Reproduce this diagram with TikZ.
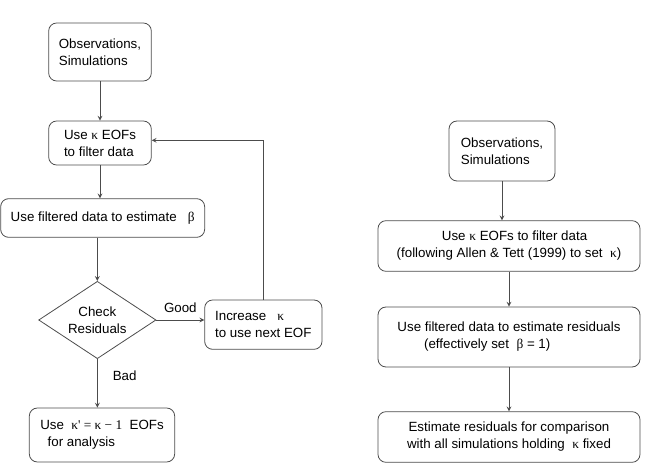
\documentclass[tikz,border=0pt]{standalone}
\usepackage{fontspec}
\setmainfont{Liberation Sans}
\newfontfamily\greekserif{Liberation Serif}
\newcommand{\gk}[1]{{\greekserif #1}}
\usetikzlibrary{shapes.geometric}
\tikzset{
  box/.style={draw=black!70, line width=0.6pt, rounded corners=6pt, align=left, inner sep=2pt},
  decision/.style={draw=black!70, line width=0.6pt, diamond, aspect=1.5, inner sep=0pt, align=center},
  flow/.style={draw=black!70, line width=0.6pt, ->, >=stealth}
}
\begin{document}
\begin{tikzpicture}[font=\fontsize{10}{12.75}\selectfont, node distance=68pt]
		\useasboundingbox (0,0) rectangle (485.25pt,-352.5pt);
		% left flow: iterative choice of kappa
		\node[box, minimum width=77pt, minimum height=43.5pt] (obsleft) at (75pt,-39pt) {Observations,\\Simulations};
		\node[box, minimum width=77pt, minimum height=33pt, below of=obsleft, node distance=68.25pt] (usekappa) {Use \gk{κ} EOFs\\to filter data};
		\node[box, minimum width=153pt, minimum height=29pt, below of=usekappa, node distance=56.25pt, xshift=2pt] (estbeta) {Use filtered data to estimate \ \ \gk{β}};
		\node[decision, minimum width=88pt, minimum height=58pt, below of=usekappa, node distance=132.75pt, xshift=-2pt] (check) {Check\\Residuals};
		\node[box, minimum width=88pt, minimum height=37pt, right of=check, node distance=124.5pt, yshift=-3.5pt] (increase) {Increase \ \ \gk{κ}\\to use next EOF};
		\node[box, minimum width=109pt, minimum height=40.5pt, below of=check, node distance=86.25pt, xshift=3.5pt] (analysis) {Use \ \gk{κ' = κ − 1} \ EOFs\\ \ \ for analysis};

		\draw[flow] (obsleft) -- (usekappa);
		\draw[flow] (usekappa) -- (usekappa |- estbeta.north);
		\draw[flow] (estbeta.south -| check.north) -- (check);
		\draw[flow] (check.east) -- node[above, yshift=2pt] (good) {Good} (check.east -| increase.west);
		\draw[flow] (check.south) -- node[right, pos=0.35, xshift=8pt] (bad) {Bad} (check.south |- analysis.north);
		\draw[flow] (increase.north) |- ([yshift=2pt]usekappa.east);

		% right flow: kappa fixed in advance
		\node[box, minimum width=79.5pt, minimum height=45pt] (obsright) at (376.5pt,-113.25pt) {Observations,\\Simulations};
		\node[box, align=center, minimum width=196.5pt, minimum height=38pt] (filter) at (381.75pt,-184.5pt) {\ \ \ Use \gk{κ} EOFs to filter data\\(following Allen \& Tett (1999) to set \ \gk{κ})};
		\node[box, minimum width=196.5pt, minimum height=45pt, below of=filter, node distance=68.25pt] (estres) {Use filtered data to estimate residuals\\ \qquad(effectively set \ \gk{β} = 1)};
		\node[box, align=center, minimum width=196.5pt, minimum height=38pt, below of=estres, node distance=75pt] (compare) {Estimate residuals for comparison\\with all simulations holding \ \gk{κ} fixed};

		\draw[flow] (obsright) -- (obsright |- filter.north);
		\draw[flow] (filter) -- (estres);
		\draw[flow] (estres) -- (compare);
	\end{tikzpicture}
\end{document}
